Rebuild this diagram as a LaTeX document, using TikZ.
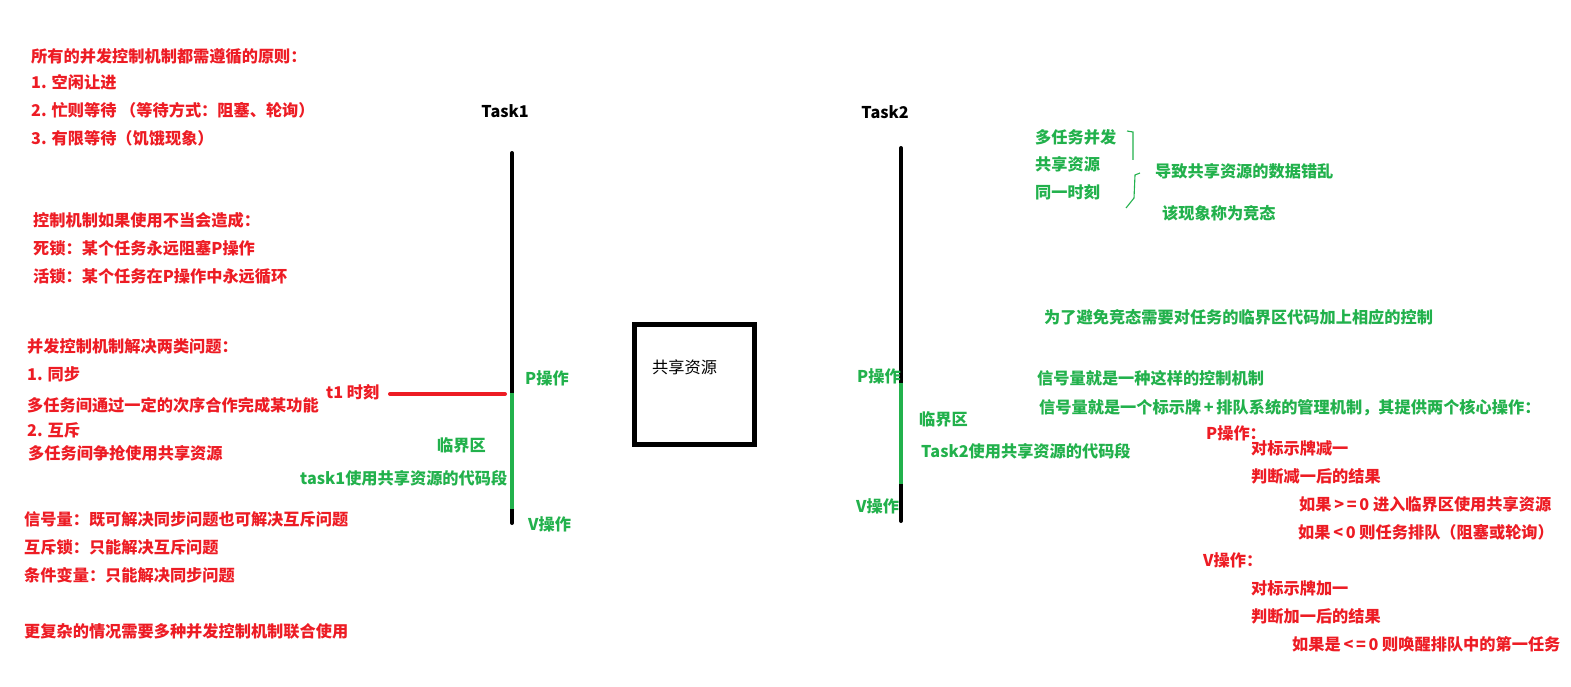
\documentclass[tikz,border=0pt]{standalone}
\usepackage{fontspec}
\setmainfont{Noto Sans CJK SC}
\definecolor{pred}{HTML}{ED1C24}
\definecolor{pgreen}{HTML}{22B14C}
\tikzset{
  txt/.style={anchor=west,inner sep=0pt,font=\fontsize{16.2}{18}\selectfont\bfseries},
  rtxt/.style={txt,text=pred},
  gtxt/.style={txt,text=pgreen},
  ktxt/.style={txt,text=black},
  tline/.style={line width=4pt,line cap=round},
  brace/.style={draw=pgreen,line width=1.1pt},
}
\begin{document}
\begin{tikzpicture}[x=1pt,y=-1pt]
\useasboundingbox (0,0) rectangle (1571,687);
% left column
\node[rtxt] (a1) at (31,56) {所有的并发控制机制都需遵循的原则：};
\node[rtxt] (a2) at (31,82) {1. 空闲让进};
\node[rtxt] (a3) at (31,110) {2. 忙则等待 （等待方式：阻塞、轮询）};
\node[rtxt] (a4) at (31,138) {3. 有限等待（饥饿现象）};
\node[rtxt] (b1) at (33,220) {控制机制如果使用不当会造成：};
\node[rtxt] (b2) at (33,248) {死锁：某个任务永远阻塞P操作};
\node[rtxt] (b3) at (33,276) {活锁：某个任务在P操作中永远循环};
\node[rtxt] (c1) at (27,346) {并发控制机制解决两类问题：};
\node[rtxt] (c2) at (27,374) {1. 同步};
\node[rtxt] (c3) at (27,405) {多任务间通过一定的次序合作完成某功能};
\node[rtxt] (c4) at (27,430) {2. 互斥};
\node[rtxt] (c5) at (28,453) {多任务间争抢使用共享资源};
\node[rtxt] (d1) at (24,519) {信号量：既可解决同步问题也可解决互斥问题};
\node[rtxt] (d2) at (24,547) {互斥锁：只能解决互斥问题};
\node[rtxt] (d3) at (24,575) {条件变量：只能解决同步问题};
\node[rtxt] (d4) at (24,631) {更复杂的情况需要多种并发控制机制联合使用};
% Task1
\node[ktxt,anchor=center] (task1) at (505,111) {Task1};
\coordinate (t1top) at (512,153);
\coordinate (t1p) at (512,393);
\coordinate (t1v) at (512,509);
\coordinate (t1bot) at (512,523);
\draw[tline,black] (t1top) -- (t1bot);
\draw[line width=4pt,pgreen] (t1p) -- (t1v);
\node[rtxt] (t1) at (326,392) {t1 时刻};
\coordinate (redl) at (390,394);
\coordinate (redr) at (505,394);
\draw[tline,pred] (redl) -- (redr);
\node[gtxt] (p1) at (525,378) {P操作};
\node[gtxt] (v1) at (528,524) {V操作};
\node[gtxt] (cr1) at (437,445) {临界区};
\node[gtxt] (code1) at (300,478) {task1使用共享资源的代码段};
% shared resource
\node[draw=black,line width=5pt,minimum width=120pt,minimum height=120pt,inner sep=0pt] (res) at (694.5,384.5) {};
\node[ktxt,font=\fontsize{16.2}{18}\selectfont] (restxt) at (652,367) {共享资源};
% Task2
\node[ktxt,anchor=center] (task2) at (885,112) {Task2};
\coordinate (t2top) at (901,148);
\coordinate (t2p) at (901,383);
\coordinate (t2v) at (901,484);
\coordinate (t2bot) at (901,521);
\draw[tline,black] (t2top) -- (t2bot);
\draw[line width=4pt,pgreen] (t2p) -- (t2v);
\node[gtxt] (p2) at (857,376) {P操作};
\node[gtxt] (v2) at (856,506) {V操作};
\node[gtxt] (cr2) at (919,419) {临界区};
\node[gtxt] (code2) at (921,451) {Task2使用共享资源的代码段};
% race
\node[gtxt] (e1) at (1035,137) {多任务并发};
\node[gtxt] (e2) at (1035,164) {共享资源};
\node[gtxt] (e3) at (1035,192) {同一时刻};
\coordinate (br1a) at (1127,131);
\coordinate (br1b) at (1133,132);
\coordinate (br1c) at (1133,160);
\coordinate (br2a) at (1140,173);
\coordinate (br2b) at (1135,175);
\coordinate (br2c) at (1134,198);
\coordinate (br2d) at (1126,208);
\draw[brace] (br1a) -- (br1b) -- (br1c);
\draw[brace] (br2a) -- (br2b) -- (br2c) -- (br2d);
\node[gtxt] (e4) at (1155,171) {导致共享资源的数据错乱};
\node[gtxt] (e5) at (1162,213) {该现象称为竞态};
\node[gtxt] (f1) at (1044,317) {为了避免竞态需要对任务的临界区代码加上相应的控制};
\node[gtxt] (g1) at (1037,378) {信号量就是一种这样的控制机制};
\node[gtxt] (g2) at (1039,408) {信号量就是一个标示牌\,+\,排队系统的管理机制，其提供两个核心操作：};
% P / V operations
\node[rtxt] (h1) at (1206,433) {P操作：};
\node[rtxt] (h2) at (1251,448) {对标示牌减一};
\node[rtxt] (h3) at (1251,476) {判断减一后的结果};
\node[rtxt] (h4) at (1299,504) {如果\,>\,=\,0 进入临界区使用共享资源};
\node[rtxt] (h5) at (1298,532) {如果\,<\,0 则任务排队（阻塞或轮询）};
\node[rtxt] (i1) at (1203,560) {V操作：};
\node[rtxt] (i2) at (1251,588) {对标示牌加一};
\node[rtxt] (i3) at (1251,616) {判断加一后的结果};
\node[rtxt] (i4) at (1292,644) {如果是\,<\,=\,0 则唤醒排队中的第一任务};
\end{tikzpicture}
\end{document}
